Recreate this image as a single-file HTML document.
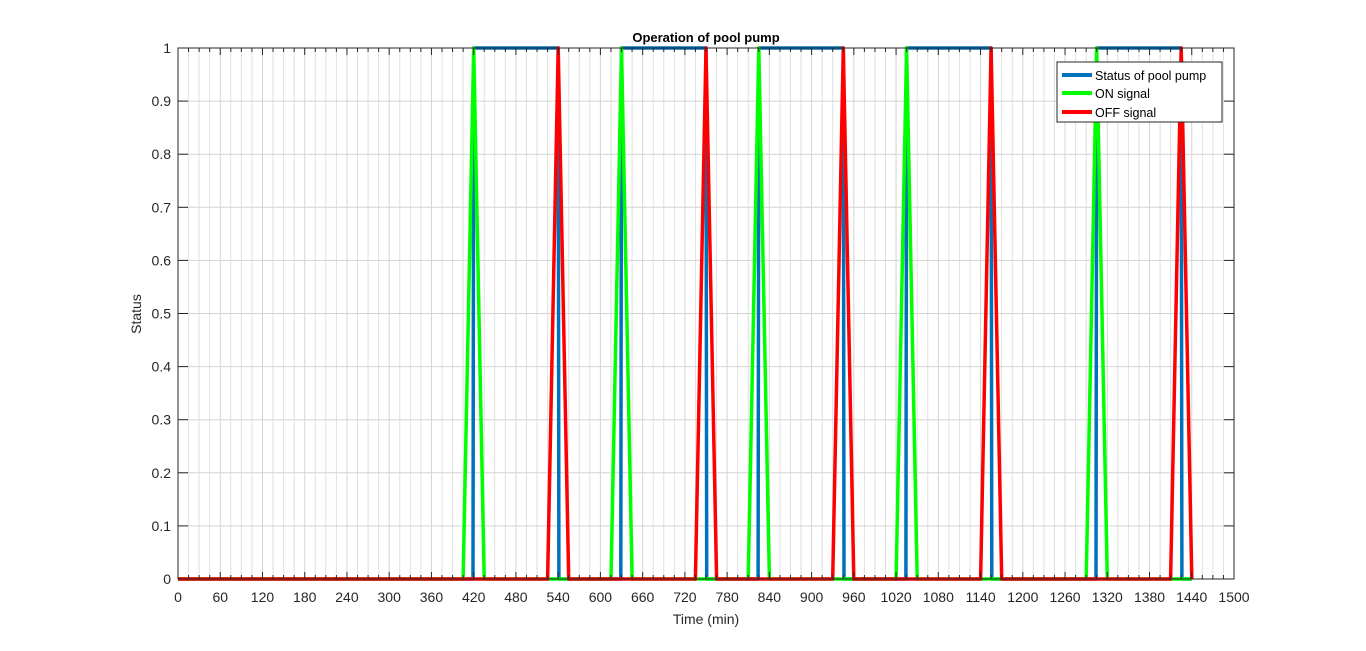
<!DOCTYPE html>
<html><head><meta charset="utf-8"><style>
body{margin:0;background:#fff;}
svg{display:block;font-family:"Liberation Sans",Arial,sans-serif;}
</style></head><body>
<svg id="chart" width="1366" height="651">
<rect x="0" y="0" width="1366" height="651" fill="#fff"/>
<g id="grid"></g>
<g id="series"></g>
<g id="axes"></g>
<text x="706" y="42" text-anchor="middle" font-size="13" font-weight="bold" fill="#000">Operation of pool pump</text>
<text x="706" y="624" text-anchor="middle" font-size="14" fill="#262626">Time (min)</text>
<text transform="translate(141,314) rotate(-90)" text-anchor="middle" font-size="14" fill="#262626">Status</text>
<g>
<rect x="1057" y="62" width="165" height="60" fill="#fff" stroke="#262626" stroke-width="1"/>
<line x1="1062" y1="75" x2="1092" y2="75" stroke="#0072BD" stroke-width="4"/>
<text x="1095" y="80" font-size="12.5" fill="#000">Status of pool pump</text>
<line x1="1062" y1="93" x2="1092" y2="93" stroke="#00FF00" stroke-width="4"/>
<text x="1095" y="98" font-size="12.5" fill="#000">ON signal</text>
<line x1="1062" y1="112" x2="1092" y2="112" stroke="#FF0000" stroke-width="4"/>
<text x="1095" y="117" font-size="12.5" fill="#000">OFF signal</text>
</g>
</svg>
<script>
const onTimes = [420, 630, 825, 1035, 1305];
const offTimes = [540, 750, 945, 1155, 1425];
const xTicks = [0,60,120,180,240,300,360,420,480,540,600,660,720,780,840,900,960,1020,1080,1140,1200,1260,1320,1380,1440,1500];
const yTicks = [0,0.1,0.2,0.3,0.4,0.5,0.6,0.7,0.8,0.9,1];
const tEnd = 1440;
const L=178,R=1234,T=48,B=579;
const X=v=>L+(v/1500)*(R-L);
const Y=v=>B-v*(B-T);
const NS='http://www.w3.org/2000/svg';
function mk(tag,attrs,parent){const e=document.createElementNS(NS,tag);for(const k in attrs)e.setAttribute(k,attrs[k]);parent.appendChild(e);return e;}
const grid=document.getElementById('grid'),axes=document.getElementById('axes'),series=document.getElementById('series');
for(let m=0;m<=1500;m+=15){
  const major=m%60===0;
  const g=mk('line',{x1:X(m),x2:X(m),y1:T,y2:B,stroke:major?'#d4d4d4':'#e0e0e0','stroke-width':1},grid);
  
  
  const len=major?7:4;
  mk('line',{x1:X(m),x2:X(m),y1:B,y2:B-len,stroke:'#262626'},axes);
  mk('line',{x1:X(m),x2:X(m),y1:T,y2:T+len,stroke:'#262626'},axes);
}
yTicks.forEach(v=>{
  const g=mk('line',{x1:L,x2:R,y1:Y(v),y2:Y(v),stroke:'#d4d4d4'},grid);
  
  
  mk('line',{x1:L,x2:L+10,y1:Y(v),y2:Y(v),stroke:'#262626'},axes);
  mk('line',{x1:R,x2:R-10,y1:Y(v),y2:Y(v),stroke:'#262626'},axes);
  const t=mk('text',{x:L-7,y:Y(v)+5,'text-anchor':'end','font-size':14,fill:'#262626'},axes);
  t.textContent=String(v);
  
  
});
xTicks.forEach(v=>{
  const t=mk('text',{x:X(v),y:B+23,'text-anchor':'middle','font-size':14,fill:'#262626'},axes);
  t.textContent=String(v);
  
  
});
const box=mk('rect',{x:L,y:T,width:R-L,height:B-T,fill:'none',stroke:'#262626'},axes);


// status
let sp=[[0,0]];
onTimes.forEach((on,i)=>{sp.push([on-1,0],[on,1],[offTimes[i],1],[offTimes[i]+1,0]);});
sp.push([tEnd,0]);
function path(pts,color,name){
  const p=mk('polyline',{points:pts.map(q=>X(q[0]).toFixed(1)+','+Y(q[1]).toFixed(1)).join(' '),fill:'none',stroke:color,'stroke-width':3.5,'stroke-linejoin':'round'},series);
  
  
}
function pulses(times){
  let pts=[[0,0]];
  times.forEach(t=>pts.push([t-15,0],[t,1],[t+15,0]));
  pts.push([tEnd,0]);return pts;
}
path(sp,'#0072BD','status-line');
path(pulses(onTimes),'#00FF00','on-signal-line');
path(pulses(offTimes),'#FF0000','off-signal-line');
</script>
</body></html>
